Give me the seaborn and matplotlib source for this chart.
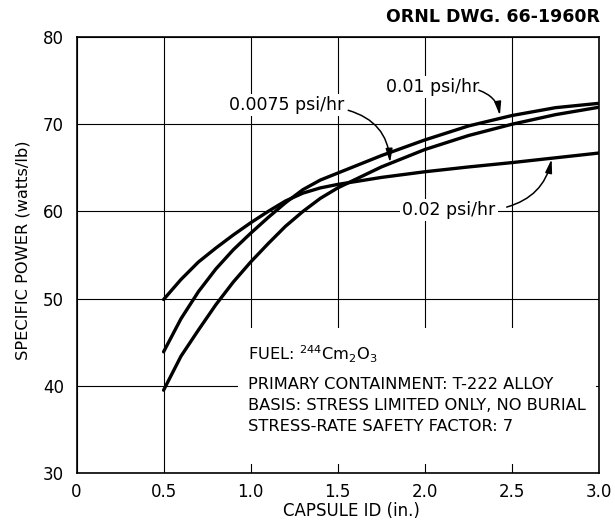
import matplotlib
matplotlib.use("Agg")
import matplotlib.pyplot as plt
import seaborn as sns
import pandas as pd
from matplotlib.patches import Rectangle

# Capsule inside diameter (in.) at which each curve was read
capsule_id = [0.5, 0.6, 0.7, 0.8, 0.9, 1.0, 1.1, 1.2, 1.3, 1.4, 1.5,
              1.75, 2.0, 2.25, 2.5, 2.75, 3.0]

# Specific power (watts/lb) for each allowable stress rate
power_002 = [49.9, 52.2, 54.2, 55.8, 57.3, 58.7, 60.0, 61.2, 62.1, 62.7, 63.1,
             63.9, 64.55, 65.1, 65.6, 66.15, 66.7]
power_001 = [43.9, 47.7, 50.8, 53.4, 55.6, 57.5, 59.3, 61.0, 62.5, 63.6, 64.4,
             66.4, 68.2, 69.8, 71.0, 71.9, 72.4]
power_00075 = [39.5, 43.4, 46.4, 49.3, 51.9, 54.2, 56.3, 58.3, 60.0, 61.5, 62.7,
               65.1, 67.1, 68.7, 70.0, 71.1, 71.95]

rate_labels = ["0.02 psi/hr", "0.01 psi/hr", "0.0075 psi/hr"]

x_ticks = [0, 0.5, 1.0, 1.5, 2.0, 2.5, 3.0]
x_tick_labels = ["0", "0.5", "1.0", "1.5", "2.0", "2.5", "3.0"]
y_ticks = [30, 40, 50, 60, 70, 80]

df = pd.concat([
    pd.DataFrame({"id": capsule_id, "power": p, "rate": r})
    for p, r in zip([power_002, power_001, power_00075], rate_labels)
])

sns.set_style("white")
plt.rcParams["font.family"] = ["DejaVu Sans"]
plt.rcParams["text.color"] = "black"
plt.rcParams["axes.labelcolor"] = "black"
plt.rcParams["xtick.color"] = "black"
plt.rcParams["ytick.color"] = "black"

fig = plt.figure(figsize=(6.15, 5.30), dpi=100)
ax = fig.add_axes([0.1244, 0.1075, 0.8496, 0.8226])

sns.lineplot(data=df, x="id", y="power", hue="rate", units="rate",
             estimator=None, sort=False, palette=["black"] * 3,
             linewidth=2.4, legend=False, ax=ax, zorder=3)

ax.set_xlim(0, 3.0)
ax.set_ylim(30, 80)
ax.set_xticks(x_ticks)
ax.set_xticklabels(x_tick_labels)
ax.set_yticks(y_ticks)
ax.tick_params(axis="both", length=0, labelsize=12, colors="black")
ax.tick_params(axis="x", pad=7.5)
ax.tick_params(axis="y", pad=9)

ax.grid(True, color="black", linewidth=0.8)
ax.set_axisbelow(True)
for s in ax.spines.values():
    s.set_color("black")
    s.set_linewidth(1.2)

# blank the grid behind the notes block
ax.add_patch(Rectangle((0.93, 31.0), 2.055, 15.6, facecolor="white",
                       edgecolor="none", zorder=1.5))

ax.set_xlabel("CAPSULE ID (in.)", fontsize=12)
ax.set_ylabel("SPECIFIC POWER (watts/lb)", fontsize=11.7, va="center")
ax.xaxis.set_label_coords(0.527, -0.067)
ax.yaxis.set_label_coords(-0.102, 0.511)

fig.text(0.976, 0.968, "ORNL DWG. 66-1960R", ha="right", va="center",
         fontsize=12.5, fontweight="bold")

# notes block
note_kw = dict(fontsize=11.7, ha="left", va="center", zorder=4)
ax.text(0.985, 43.6, r"FUEL: $^{244}$Cm$_2$O$_3$", **note_kw)
ax.text(0.985, 40.17, "PRIMARY CONTAINMENT: T-222 ALLOY", **note_kw)
ax.text(0.985, 37.72, "BASIS: STRESS LIMITED ONLY, NO BURIAL", **note_kw)
ax.text(0.985, 35.39, "STRESS-RATE SAFETY FACTOR: 7", **note_kw)

# curve labels with leader arrows
lab_kw = dict(fontsize=12.5, ha="center", va="center", zorder=4,
              bbox=dict(facecolor="white", edgecolor="none", pad=1.5))
ax.text(1.208, 72.2, rate_labels[2], **lab_kw)
ax.text(2.047, 74.27, rate_labels[1], **lab_kw)
ax.text(2.138, 60.16, rate_labels[0], **lab_kw)

arrow_style = "-|>,head_length=0.8,head_width=0.2"
ax.annotate("", xy=(1.80, 65.6), xytext=(1.56, 71.6),
            arrowprops=dict(arrowstyle=arrow_style, color="black", lw=1.1,
                            connectionstyle="arc3,rad=-0.35",
                            shrinkA=0, shrinkB=0), zorder=4)
ax.annotate("", xy=(2.431, 71.0), xytext=(2.31, 73.9),
            arrowprops=dict(arrowstyle=arrow_style, color="black", lw=1.1,
                            connectionstyle="arc3,rad=-0.3",
                            shrinkA=0, shrinkB=0), zorder=4)
ax.annotate("", xy=(2.728, 66.0), xytext=(2.47, 60.5),
            arrowprops=dict(arrowstyle=arrow_style, color="black", lw=1.1,
                            connectionstyle="arc3,rad=0.3",
                            shrinkA=0, shrinkB=0), zorder=4)

fig.savefig("out.png", dpi=100, facecolor="white")
